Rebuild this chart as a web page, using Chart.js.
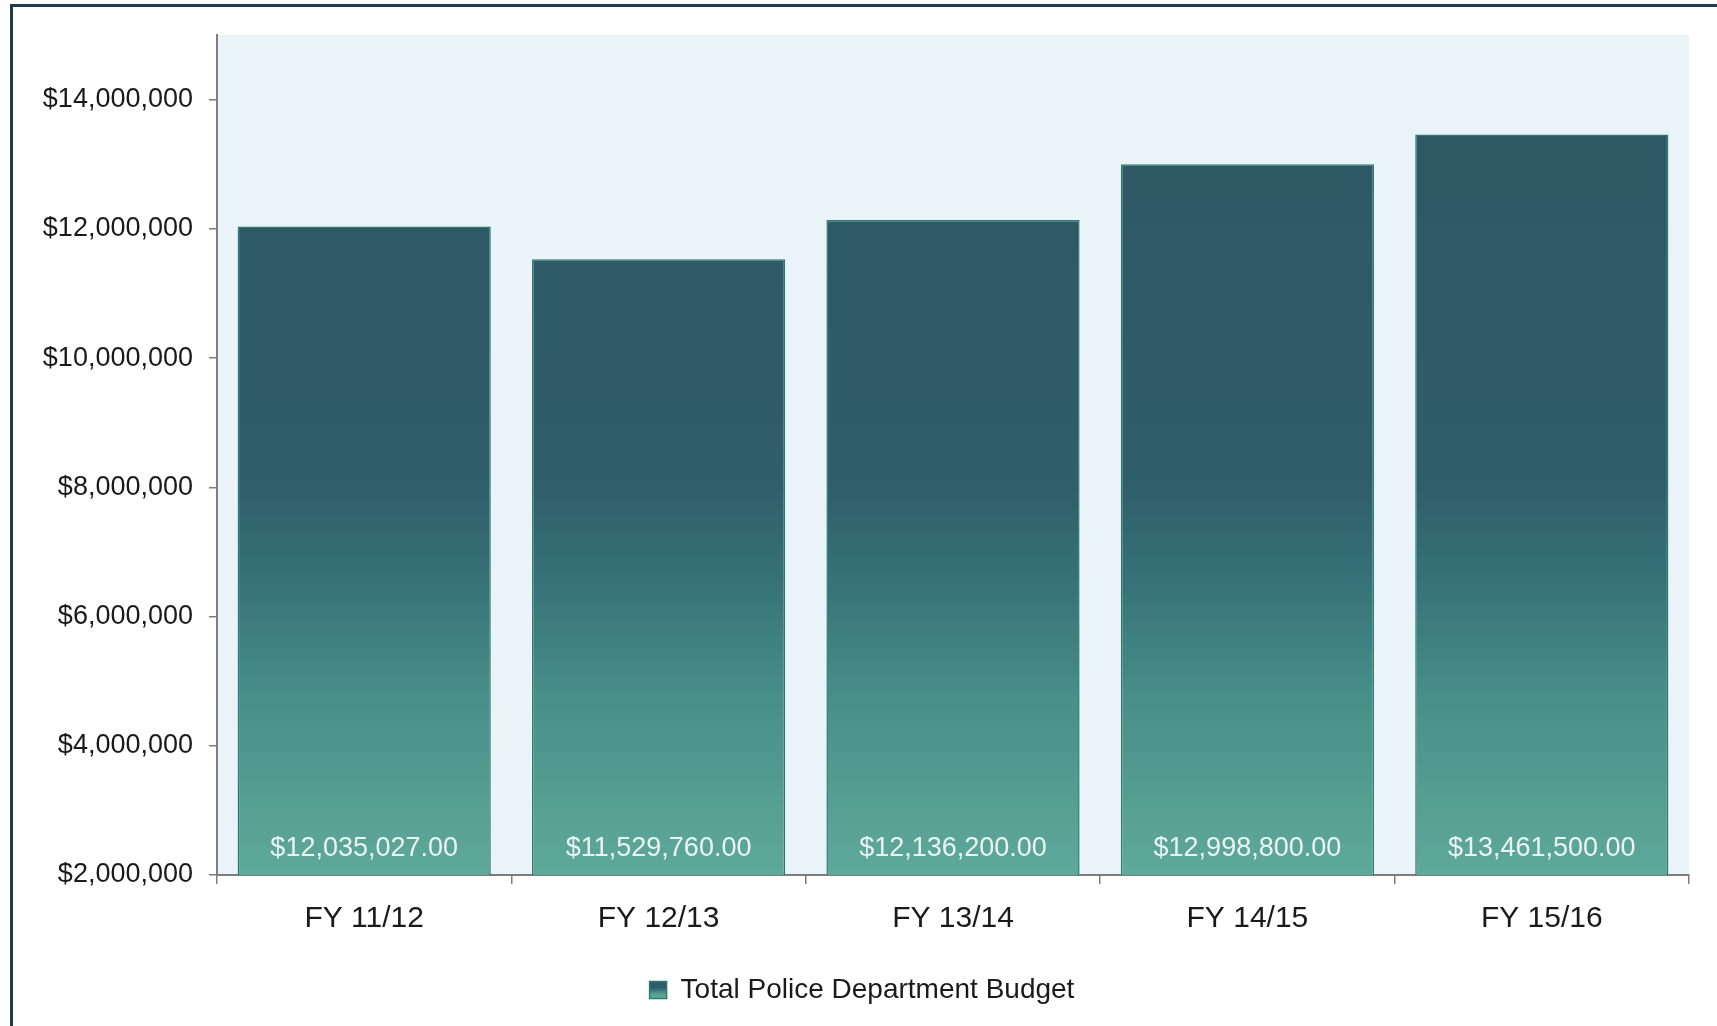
<!DOCTYPE html>
<html>
<head>
<meta charset="utf-8">
<title>Police Department Budget</title>
<script src="https://cdn.jsdelivr.net/npm/chart.js@4.4.1/dist/chart.umd.min.js"></script>
<style>
  html, body { margin: 0; padding: 0; background: #fff; overflow: hidden; }
  #wrap { position: relative; width: 1717px; height: 1026px; }
  #frame { position: absolute; left: 10px; top: 4px; width: 1730px; height: 1050px;
           border: 3px solid #1f3a4e; box-sizing: border-box; pointer-events: none; }
</style>
</head>
<body>
<div id="wrap">
  <canvas id="budgetChart"></canvas>
  <div id="frame"></div>
</div>
<script>
const fiscalYears = ['FY 11/12', 'FY 12/13', 'FY 13/14', 'FY 14/15', 'FY 15/16'];
const policeBudget = [12035027.00, 11529760.00, 12136200.00, 12998800.00, 13461500.00];
const seriesName = 'Total Police Department Budget';
const yTicks = [2000000, 4000000, 6000000, 8000000, 10000000, 12000000, 14000000];
const yMin = 2000000;
const yMax = 15000000;

Chart.defaults.font.family = '"Liberation Sans", Arial, sans-serif';
Chart.defaults.color = '#1a1a1a';

function money(v, digits) {
  return '$' + v.toLocaleString('en-US', { minimumFractionDigits: digits, maximumFractionDigits: digits });
}

// shading shared by every bar: slate blue up top, sea green at the base
function barFill(ctx, top, bottom) {
  const g = ctx.createLinearGradient(0, top, 0, bottom);
  g.addColorStop(0, '#2d5864');
  g.addColorStop(0.53, '#2f5d69');
  g.addColorStop(0.67, '#38767a');
  g.addColorStop(0.79, '#488f89');
  g.addColorStop(1, '#5fa999');
  return g;
}

const plotBackground = {
  id: 'plotBackground',
  beforeDraw(chart) {
    const a = chart.chartArea, ctx = chart.ctx;
    ctx.save();
    ctx.fillStyle = '#eaf3f8';
    ctx.fillRect(a.left, a.top, a.right - a.left, a.bottom - a.top);
    ctx.restore();
    // the legend swatch gets a small gradient of its own
    const lg = chart.legend;
    if (lg && lg.legendItems && lg.legendItems.length) {
      const mid = (lg.top + lg.bottom) / 2;
      lg.legendItems[0].fillStyle = barFill(ctx, mid - 12, mid + 6);
    }
  }
};

// value printed near the foot of each bar
const barValueLabels = {
  id: 'barValueLabels',
  afterDatasetsDraw(chart) {
    const ctx = chart.ctx;
    const meta = chart.getDatasetMeta(0);
    const foot = chart.scales.y.getPixelForValue(yMin);
    ctx.save();
    ctx.font = '27px "Liberation Sans", Arial, sans-serif';
    ctx.fillStyle = '#ecf4f1';
    ctx.textAlign = 'center';
    ctx.textBaseline = 'middle';
    meta.data.forEach((bar, i) => {
      ctx.fillText(money(policeBudget[i], 2), bar.x, foot - 26);
    });
    ctx.restore();
  }
};

new Chart(document.getElementById('budgetChart'), {
  type: 'bar',
  data: {
    labels: fiscalYears,
    datasets: [{
      label: seriesName,
      data: policeBudget,
      backgroundColor: c => {
        const a = c.chart.chartArea;
        return a ? barFill(c.chart.ctx, a.top, a.bottom) : '#3a7a7c';
      },
      borderColor: '#2b7b6f',
      borderWidth: 1.5,
      categoryPercentage: 1,
      barPercentage: 0.86
    }]
  },
  options: {
    responsive: true,
    maintainAspectRatio: false,
    animation: false,
    layout: { padding: { top: 35, right: 28, left: 35, bottom: 12 } },
    plugins: {
      legend: {
        position: 'bottom',
        labels: { boxWidth: 17, boxHeight: 17, font: { size: 28 }, color: '#1a1a1a', padding: 10 }
      },
      tooltip: { enabled: false }
    },
    scales: {
      x: {
        grid: { offset: true, drawOnChartArea: false, tickLength: 9, color: '#7d7d7d', lineWidth: 1.5 },
        border: { color: '#7d7d7d', width: 2 },
        ticks: { font: { size: 30 }, padding: 17 },
        afterFit(s) { s.height = 91; }
      },
      y: {
        min: yMin,
        max: yMax,
        grid: { drawOnChartArea: false, tickLength: 8, color: '#7d7d7d', lineWidth: 1.5 },
        border: { color: '#7d7d7d', width: 2 },
        ticks: { font: { size: 27 }, padding: 16, callback: v => money(v, 0) },
        afterBuildTicks(s) { s.ticks = yTicks.map(v => ({ value: v })); },
        afterFit(s) { s.width = 182; }
      }
    }
  },
  plugins: [plotBackground, barValueLabels]
});
</script>
</body>
</html>
